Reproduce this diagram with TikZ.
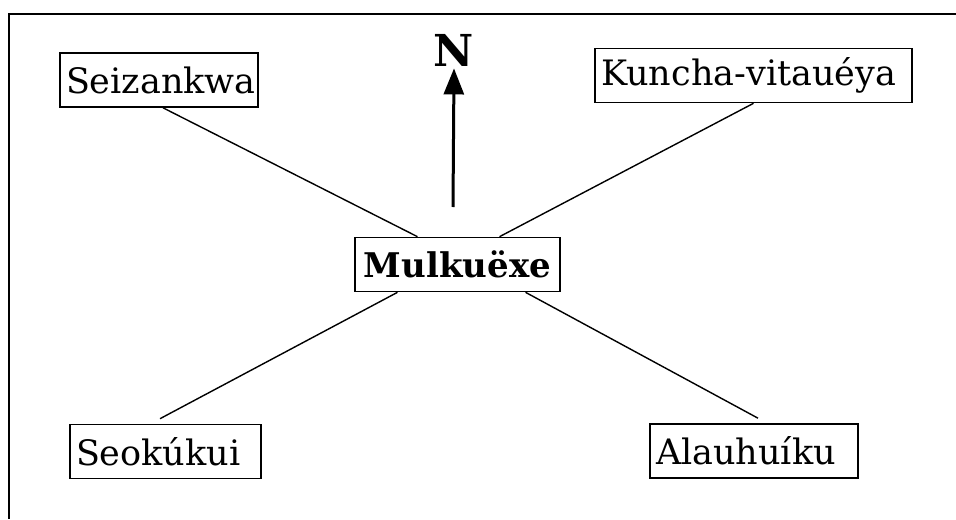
\documentclass[tikz,border=0pt]{standalone}
\usepackage{fontspec}
\setmainfont{DejaVu Serif}
\usepackage{tikz}
\usetikzlibrary{arrows.meta}

\tikzset{
    place/.style={draw, line width=0.8pt, inner sep=3pt, minimum height=27pt,
        align=left, font=\fontsize{17.5}{20}\selectfont},
    link/.style={line width=0.7pt}
}

\begin{document}
\begin{tikzpicture}[x=0.5pt, y=-0.5pt]
            \useasboundingbox (0,0) rectangle (956,519);
            \draw[line width=1pt] (956,14) -- (9,14) -- (9,519);
            \node[place, text width=93pt] (seiz) at (159,80) {Seizankwa};
            \node[place, text width=152.5pt] (kun) at (753.5,75.5) {Kuncha-vitauéya};
            \node[place, text width=96.5pt, align=center, font=\fontsize{17}{20}\selectfont\bfseries] (mulk) at (457.5,264.5) {Mulkuëxe};
            \node[place, text width=89.5pt] (seok) at (165.5,451.5) {Seokúkui};
            \node[place, text width=98pt] (alau) at (754,451) {Alauhuíku};
            \node[inner sep=1pt, font=\fontsize{22}{24}\selectfont\bfseries] (nlabel) at (454,50) {N};
            \coordinate (ntail) at (453,207);
            \draw[line width=1.5pt, -{Triangle[length=13pt, width=10pt]}] (ntail) -- (nlabel.south);
            \draw[link] ([xshift=2pt]seiz.south) -- ([xshift=-20pt]mulk.north);
            \draw[link] (kun.south) -- ([xshift=21pt]mulk.north);
            \draw[link] ([xshift=-2.75pt, yshift=2.5pt]seok.north) -- ([xshift=-30pt]mulk.south);
            \draw[link] ([xshift=2pt, yshift=2.5pt]alau.north) -- ([xshift=34pt]mulk.south);
        \end{tikzpicture}
\end{document}
